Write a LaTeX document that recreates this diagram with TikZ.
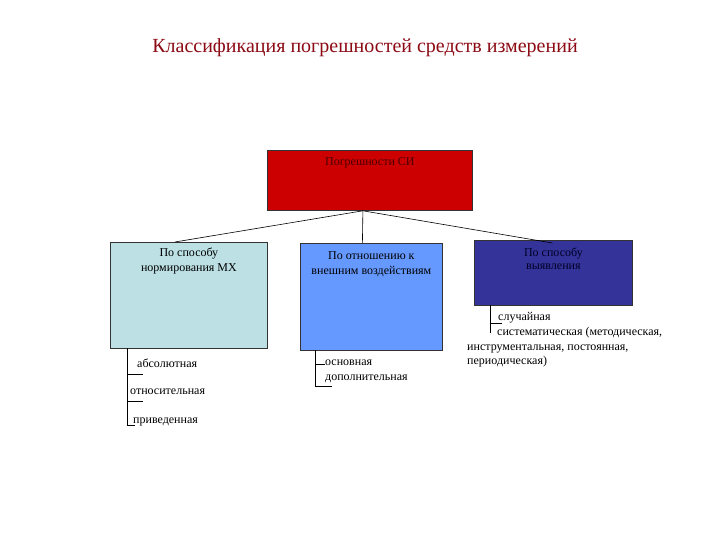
\documentclass[tikz,border=0pt]{standalone}
\usepackage{fontspec}
\setmainfont{Liberation Serif}
\definecolor{titlered}{HTML}{8B0A14}
\definecolor{topred}{HTML}{CC0000}
\definecolor{lightcyan}{HTML}{BCE0E4}
\definecolor{midblue}{HTML}{6699FF}
\definecolor{darkblue}{HTML}{333399}
\tikzset{
  box/.style={draw=black!80, line width=0.8pt, anchor=north west, inner sep=0pt},
  boxtext/.style={anchor=north, align=center, inner sep=0pt, font=\fontsize{12}{15}\selectfont},
  item/.style={anchor=base west, inner sep=0pt, font=\fontsize{12}{14}\selectfont},
  link/.style={line width=0.6pt}
}
\begin{document}
\begin{tikzpicture}[x=1pt, y=-1pt]
	\useasboundingbox (0, 0) rectangle (720, 540);

	\node[text=titlered, font=\fontsize{20}{22}\selectfont] (title) at (365, 48)
		{Классификация погрешностей средств измерений};

	% boxes
	\node[box, fill=topred, minimum width=205, minimum height=60] (err) at (267, 150) {};
	\node[box, fill=lightcyan, minimum width=157, minimum height=106] (norm) at (110, 242) {};
	\node[box, fill=midblue, minimum width=142, minimum height=107] (infl) at (300, 243) {};
	\node[box, fill=darkblue, minimum width=158, minimum height=65] (reveal) at (474, 240) {};

	\node[boxtext, text=black!70!red] (errtext) at ([yshift=-7]err.north) {Погрешности СИ};
	\node[boxtext] (normtext) at ([yshift=-6]norm.north) {По способу\\нормирования МХ};
	\node[boxtext] (infltext) at ([yshift=-8]infl.north) {По отношению к\\внешним воздействиям};
	\node[boxtext, text=black!85!blue, font=\fontsize{12}{13}\selectfont] (revealtext)
		at ([yshift=-8]reveal.north) {По способу\\выявления};

	% connectors
	\coordinate (hub) at ([xshift=-7]err.south);
	\draw[link] (hub) -- ([xshift=-14]norm.north);
	\draw[link] (hub) -- ([xshift=-9]infl.north);
	\draw[link] (hub) -- ([xshift=-1, yshift=-3]reveal.north);

	% sub-items, left
	\draw[link] (127, 348) -- (127, 425);
	\draw[link] (127, 374) -- (143, 374);
	\draw[link] (127, 401) -- (143, 401);
	\draw[link] (127, 425) -- (135, 425);
	\node[item] (abs) at (137, 367) {абсолютная};
	\node[item] (rel) at (130, 394) {относительная};
	\node[item] (red) at (133, 423) {приведенная};

	% sub-items, middle
	\draw[link] (315, 350) -- (315, 387);
	\draw[link] (315, 364) -- (325, 364);
	\draw[link] (315, 386) -- (332, 386);
	\node[item] (main) at (325, 365) {основная};
	\node[item] (add) at (325, 380) {дополнительная};

	% sub-items, right
	\draw[link] (490, 305) -- (490, 333);
	\draw[link] (490, 323) -- (502, 323);
	\node[item] (rand) at (498, 320) {случайная};
	\node[item] (sys) at (497, 335) {систематическая (методическая,};
	\node[item] (sys2) at (467, 350) {инструментальная, постоянная,};
	\node[item] (sys3) at (467, 364) {периодическая)};
\end{tikzpicture}
\end{document}
